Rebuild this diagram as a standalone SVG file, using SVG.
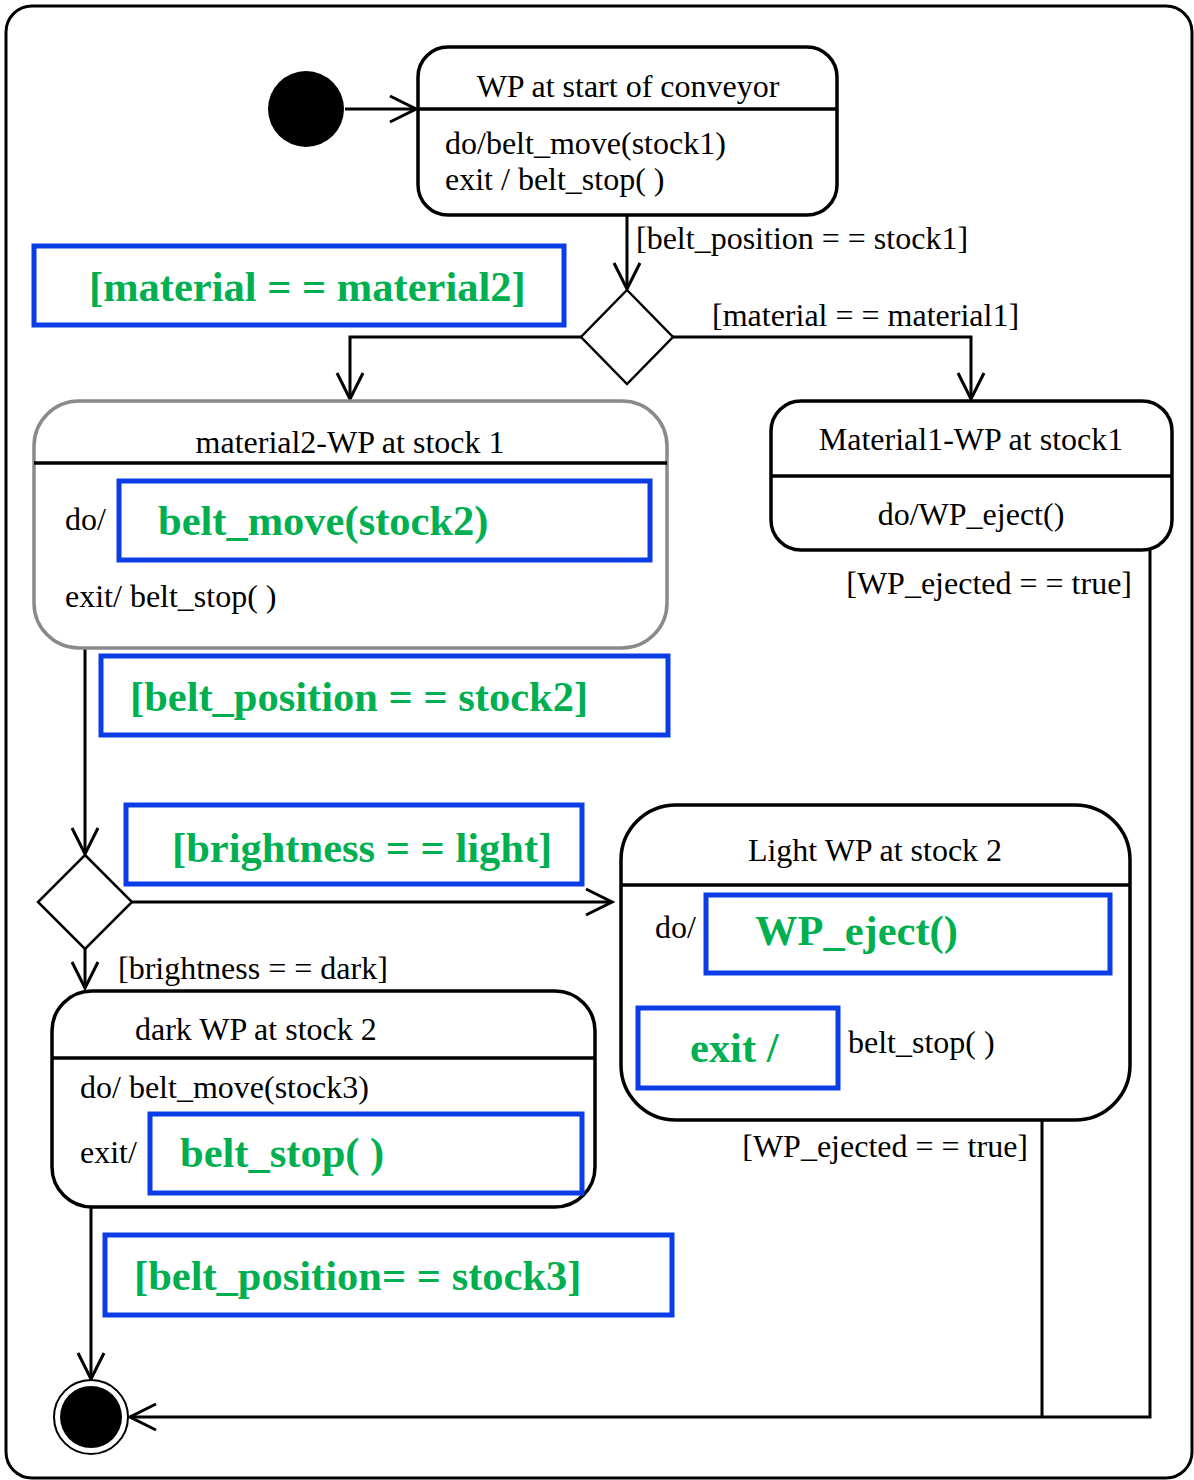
<svg xmlns="http://www.w3.org/2000/svg" width="1194" height="1480" viewBox="0 0 1194 1480">
  <style>
    .frame { fill: #fff; stroke: #000; stroke-width: 3; }
    .state { fill: #fff; stroke: #000; stroke-width: 3.5; }
    .state-grey { fill: #fff; stroke: #8a8a8a; stroke-width: 3.5; }
    .div { stroke: #000; stroke-width: 3.5; }
    .hl { fill: #fff; stroke: #0a3de6; stroke-width: 5; }
    .txt { font-family: "Liberation Serif", "Times New Roman", serif; font-size: 32px; fill: #000; }
    .mid { text-anchor: middle; }
    .end { text-anchor: end; }
    .grn { font-family: "Liberation Serif", "Times New Roman", serif; font-size: 42.5px; font-weight: bold; fill: #00b050; }
    .edge { fill: none; stroke: #000; stroke-width: 3; }
    .decision { fill: #fff; stroke: #000; stroke-width: 2.5; }
  </style>
  <defs>
    <marker id="open" markerUnits="userSpaceOnUse" markerWidth="30" markerHeight="30" viewBox="0 0 30 30" refX="27" refY="15" orient="auto">
      <path d="M1,2 L27,15 L1,28" fill="none" stroke="#000" stroke-width="3"/>
    </marker>
  </defs>

  <!-- enclosing frame -->
  <rect class="frame" x="6" y="6" width="1186" height="1472" rx="26" ry="26"/>

  <!-- guard annotations drawn on the canvas -->
  <g id="guard-material2">
    <rect class="hl" x="34" y="246" width="530" height="79"/>
    <text class="grn" x="89" y="301">[material = = material2]</text>
  </g>
  <g id="guard-stock2">
    <rect class="hl" x="101" y="656" width="567" height="79"/>
    <text class="grn" x="130" y="711">[belt_position = = stock2]</text>
  </g>
  <g id="guard-light">
    <rect class="hl" x="126" y="805" width="456" height="79"/>
    <text class="grn" x="172" y="862">[brightness = = light]</text>
  </g>
  <g id="guard-stock3">
    <rect class="hl" x="105" y="1235" width="567" height="80"/>
    <text class="grn" x="134" y="1290">[belt_position= = stock3]</text>
  </g>

  <!-- connectors -->
  <g id="connectors">
    <path class="edge" d="M345,109 H416" marker-end="url(#open)"/>
    <path class="edge" d="M627,215 V289" marker-end="url(#open)"/>
    <path class="edge" d="M581,337 H350 V399" marker-end="url(#open)"/>
    <path class="edge" d="M673,337 H971 V399" marker-end="url(#open)"/>
    <path class="edge" d="M85,648 V854" marker-end="url(#open)"/>
    <path class="edge" d="M132,902 H612" marker-end="url(#open)"/>
    <path class="edge" d="M85,949 V988" marker-end="url(#open)"/>
    <path class="edge" d="M91,1207 V1379" marker-end="url(#open)"/>
    <path class="edge" d="M1150,550 V1417 H130" marker-end="url(#open)"/>
    <path class="edge" d="M1042,1120 V1417"/>
    <text class="txt" x="636" y="249">[belt_position = = stock1]</text>
    <text class="txt" x="712" y="326">[material = = material1]</text>
    <text class="txt end" x="1132" y="594">[WP_ejected = = true]</text>
    <text class="txt end" x="1028" y="1157">[WP_ejected = = true]</text>
    <text class="txt" x="118" y="979">[brightness = = dark]</text>
  </g>

  <!-- initial pseudo-state -->
  <g id="initial">
    <circle cx="306" cy="109" r="38" fill="#000"/>
  </g>

  <!-- WP at start of conveyor -->
  <g id="state-start">
    <rect class="state" x="418" y="47" width="419" height="168" rx="30" ry="30"/>
    <line class="div" x1="418" y1="109" x2="837" y2="109"/>
    <text class="txt mid" x="628" y="97">WP at start of conveyor</text>
    <text class="txt" x="445" y="154">do/belt_move(stock1)</text>
    <text class="txt" x="445" y="190">exit / belt_stop( )</text>
  </g>

  <!-- first decision -->
  <g id="decision-material">
    <polygon class="decision" points="627,290 673,337 627,384 581,337"/>
  </g>

  <!-- material2-WP at stock 1 -->
  <g id="state-material2">
    <rect class="state-grey" x="34" y="401" width="633" height="247" rx="45" ry="45"/>
    <line class="div" x1="34" y1="463" x2="667" y2="463"/>
    <text class="txt mid" x="350" y="453">material2-WP at stock 1</text>
    <text class="txt" x="65" y="530">do/</text>
    <rect class="hl" x="119" y="481" width="531" height="79"/>
    <text class="grn" x="158" y="535">belt_move(stock2)</text>
    <text class="txt" x="65" y="607">exit/ belt_stop( )</text>
  </g>

  <!-- Material1-WP at stock1 -->
  <g id="state-material1">
    <rect class="state" x="771" y="401" width="401" height="149" rx="30" ry="30"/>
    <line class="div" x1="771" y1="476" x2="1172" y2="476"/>
    <text class="txt mid" x="971" y="450">Material1-WP at stock1</text>
    <text class="txt mid" x="971" y="525">do/WP_eject()</text>
  </g>

  <!-- second decision -->
  <g id="decision-brightness">
    <polygon class="decision" points="85,855 132,902 85,949 38,902"/>
  </g>

  <!-- Light WP at stock 2 -->
  <g id="state-light">
    <rect class="state" x="621" y="805" width="509" height="315" rx="55" ry="55"/>
    <line class="div" x1="621" y1="885" x2="1130" y2="885"/>
    <text class="txt mid" x="875" y="861">Light WP at stock 2</text>
    <text class="txt" x="655" y="938">do/</text>
    <rect class="hl" x="706" y="895" width="404" height="78"/>
    <text class="grn" x="755" y="945">WP_eject()</text>
    <rect class="hl" x="638" y="1008" width="200" height="80"/>
    <text class="grn" x="690" y="1062">exit /</text>
    <text class="txt" x="848" y="1053">belt_stop( )</text>
  </g>

  <!-- dark WP at stock 2 -->
  <g id="state-dark">
    <rect class="state" x="52" y="991" width="543" height="216" rx="40" ry="40"/>
    <line class="div" x1="52" y1="1058" x2="595" y2="1058"/>
    <text class="txt" x="135" y="1040">dark WP at stock 2</text>
    <text class="txt" x="80" y="1098">do/ belt_move(stock3)</text>
    <text class="txt" x="80" y="1163">exit/</text>
    <rect class="hl" x="150" y="1114" width="432" height="79"/>
    <text class="grn" x="180" y="1167">belt_stop( )</text>
  </g>

  <!-- final state -->
  <g id="final">
    <circle cx="91" cy="1417" r="37" fill="#fff" stroke="#000" stroke-width="2"/>
    <circle cx="91" cy="1417" r="31" fill="#000"/>
  </g>
</svg>
